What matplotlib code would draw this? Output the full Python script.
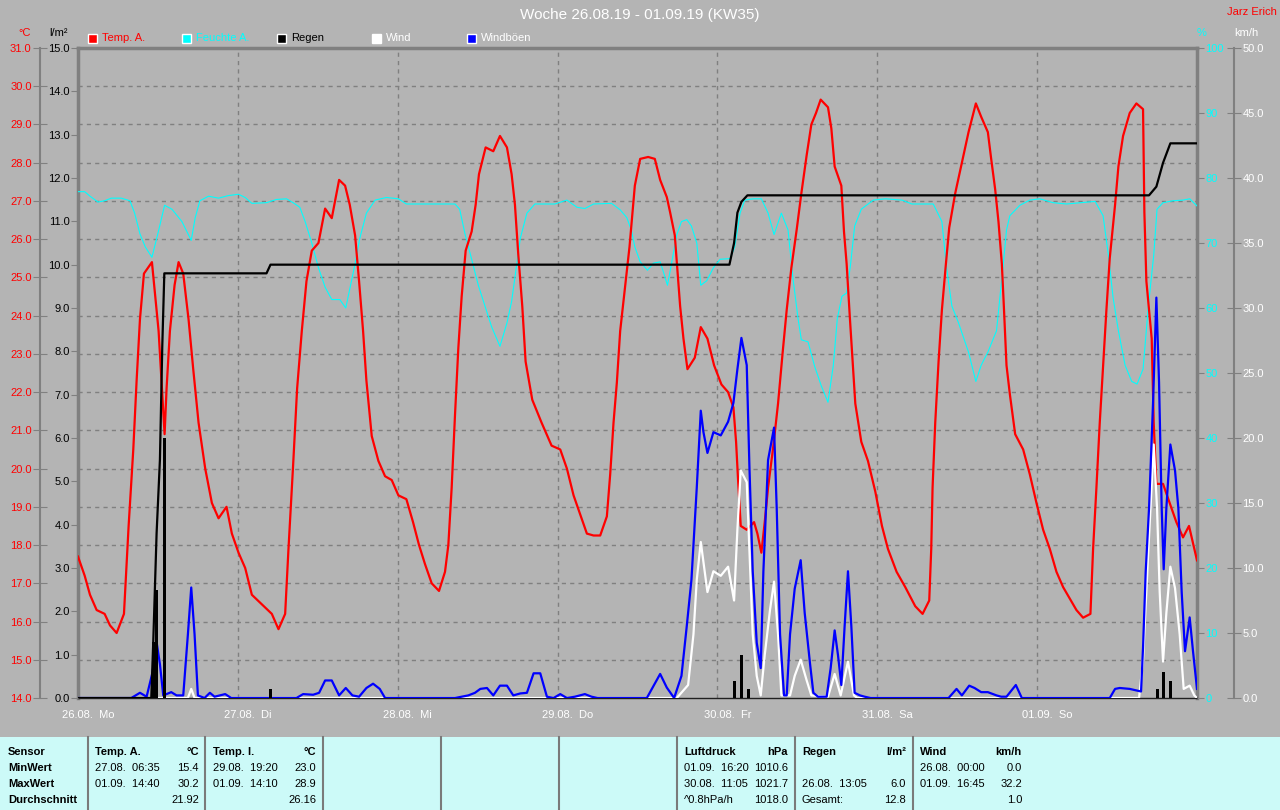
import numpy as np
import matplotlib.pyplot as plt
from matplotlib.patches import Rectangle
from matplotlib.lines import Line2D

plt.rcParams['font.family'] = ['Liberation Sans', 'DejaVu Sans']

# hours since 26.08. 00:00
temp_h = [0.0, 1.0, 1.8, 2.8, 4.0, 4.8, 5.8, 6.9, 7.6, 8.3, 8.8, 9.3, 9.9, 11.1, 11.6, 12.1, 12.6, 13.0,
          13.3, 13.8, 14.5, 15.1, 15.8, 16.6, 17.3, 18.1, 19.1, 20.1, 21.1, 22.3, 23.1, 24.1, 25.1, 26.1,
          27.3, 29.1, 30.1, 31.1, 31.6, 32.3, 32.9, 33.6, 34.3, 35.1, 36.1, 37.1, 38.1, 39.2, 40.1, 40.8,
          41.6, 42.2, 42.8, 43.3, 44.1, 45.1, 46.1, 47.1, 48.1, 49.3, 50.3, 51.2, 52.1, 53.1, 54.2, 55.1,
          55.6, 56.1, 56.6, 57.1, 57.6, 58.2, 59.1, 59.7, 60.2, 61.2, 62.35, 63.35, 64.4, 65.1, 65.6, 66.1,
          66.7, 67.2, 68.2, 69.6, 71.1, 72.4, 73.4, 74.4, 75.4, 76.4, 77.4, 78.4, 79.4, 79.9, 80.4, 80.9,
          81.4, 82.1, 82.8, 83.6, 84.4, 85.6, 86.6, 87.4, 88.4, 88.9, 89.6, 90.4, 90.9, 91.5, 92.6, 93.5,
          94.5, 95.5, 96.6, 97.6, 98.4, 98.8, 99.1, 99.5, 100.4, 101.5, 102.0, 102.6, 103.1, 103.6, 104.4,
          105.1, 105.8, 106.4, 107.1, 107.9, 108.6, 109.4, 110.1, 110.8, 111.5, 112.6, 113.1, 113.6, 114.6,
          115.0, 115.4, 115.9, 116.3, 116.7, 117.6, 118.6, 119.7, 120.7, 121.6, 122.9, 124.2, 125.7, 126.8,
          127.8, 128.1, 128.3, 128.7, 129.2, 129.7, 130.3, 130.8, 131.7, 132.7, 133.7, 134.8, 135.6, 136.6,
          137.1, 137.7, 138.2, 138.7, 139.0, 139.4, 139.9, 140.7, 141.9, 142.9, 143.9, 144.9, 145.9, 146.9,
          147.9, 148.9, 149.9, 150.9, 152.0, 152.4, 152.9, 153.4, 153.9, 154.4, 154.9, 155.7, 156.2, 156.9,
          157.9, 158.9, 159.9, 160.1, 160.4, 161.2, 161.5, 161.9, 162.9, 163.9, 164.9, 165.9, 166.8, 168.0]
temp_v = [17.7, 17.2, 16.7, 16.3, 16.2, 15.9, 15.7, 16.2, 18.5, 20.5, 22.3, 23.9, 25.1, 25.4, 24.5, 23.6, 22.1, 20.9,
          22.1, 23.6, 24.8, 25.4, 25.1, 23.9, 22.6, 21.2, 20.0, 19.1, 18.7, 19.0, 18.3, 17.8, 17.4, 16.7,
          16.5, 16.2, 15.8, 16.2, 17.9, 20.1, 22.1, 23.6, 24.9, 25.7, 25.9, 26.8, 26.55, 27.55, 27.4, 26.9,
          26.1, 24.9, 23.6, 22.3, 20.85, 20.2, 19.8, 19.7, 19.3, 19.2, 18.6, 18.0, 17.5, 17.0, 16.8, 17.3,
          18.0, 19.5, 21.4, 23.15, 24.5, 25.7, 26.2, 26.9, 27.7, 28.4, 28.3, 28.7, 28.4, 27.7, 26.9, 25.6,
          24.25, 22.8, 21.8, 21.2, 20.6, 20.5, 20.0, 19.3, 18.8, 18.3, 18.25, 18.25, 18.75, 19.85, 21.2, 22.25,
          23.6, 24.7, 25.8, 27.4, 28.1, 28.15, 28.1, 27.55, 27.1, 26.7, 26.1, 24.25, 23.4, 22.6, 22.9, 23.7,
          23.4, 22.7, 22.2, 22.0, 21.6, 20.7, 19.7, 18.5, 18.4, 18.6, 18.3, 17.8, 18.6, 19.5, 20.6,
          21.7, 23.05, 24.15, 25.25, 26.25, 27.2, 28.2, 29.0, 29.3, 29.65, 29.45, 28.9, 27.9, 27.4,
          26.2, 25.35, 23.9, 22.8, 21.7, 20.7, 20.2, 19.4, 18.5, 17.9, 17.3, 16.9, 16.4, 16.2,
          16.55, 17.9, 19.5, 21.2, 22.8, 24.15, 25.35, 26.3, 27.2, 28.0, 28.8, 29.55, 29.2, 28.8,
          28.1, 27.3, 26.45, 25.35, 24.25, 22.7, 21.95, 20.9, 20.5, 19.85, 19.1, 18.4, 17.9, 17.3,
          16.9, 16.6, 16.3, 16.1, 16.2, 17.9, 19.5, 21.2, 22.7, 24.15, 25.5, 26.9, 27.9, 28.7,
          29.3, 29.55, 29.4, 26.7, 24.9, 23.4, 21.2, 19.6, 19.6, 19.1, 18.6, 18.2, 18.5, 17.6]

hum_h = [0.0, 1.0, 1.8, 3.0, 4.0, 5.0, 6.5, 7.8, 8.5, 9.3, 10.1, 11.1, 12.1, 13.0, 14.1, 15.6, 17.0, 17.6,
         18.3, 19.6, 21.1, 22.6, 24.1, 25.1, 26.1, 28.3, 29.8, 31.3, 32.3, 33.3, 34.1, 35.1, 36.1, 37.1,
         38.1, 39.3, 40.2, 40.8, 41.6, 42.3, 43.3, 44.6, 46.3, 48.1, 49.3, 56.6, 57.3, 58.1, 59.1, 60.1,
         61.1, 62.1, 63.35, 64.4, 65.1, 65.7, 66.4, 67.4, 68.6, 71.6, 73.4, 74.9, 76.1, 77.4, 80.1, 81.4,
         82.4, 83.1, 83.6, 84.4, 85.5, 86.4, 87.4, 87.9, 88.5, 89.1, 89.9, 90.6, 91.4, 92.1, 92.9, 93.5,
         94.4, 95.4, 96.4, 97.9, 98.6, 99.4, 100.1, 101.4, 102.6, 103.6, 104.5, 105.6, 106.6, 107.3, 108.1,
         108.6, 109.6, 110.6, 111.6, 112.6, 113.4, 114.0, 114.7, 115.4, 116.0, 116.6, 117.6, 119.4, 121.2,
         123.7, 125.2, 128.4, 129.7, 130.4, 131.2, 132.2, 133.7, 134.8, 135.6, 136.6, 137.9, 138.4, 138.9,
         139.4, 139.9, 141.4, 142.9, 144.4, 146.4, 148.4, 152.7, 153.9, 154.7, 155.4, 156.2, 157.2, 158.2,
         159.0, 159.9, 160.7, 161.5, 162.0, 162.9, 164.4, 165.9, 166.9, 168.0]
hum_v = [77.9, 77.9, 77.2, 76.3, 76.5, 76.9, 76.9, 76.5, 74.6, 71.4, 69.4, 67.8, 71.9, 75.8, 75.2, 73.3, 70.4, 73.9,
         76.5, 77.2, 76.9, 77.3, 77.5, 77.0, 76.1, 76.2, 76.7, 76.8, 76.2, 75.5, 73.3, 70.0, 66.2, 63.2,
         61.3, 61.3, 60.0, 62.9, 66.8, 70.7, 74.6, 76.6, 77.0, 76.8, 76.0, 76.0, 75.2, 71.4, 67.5, 63.5,
         60.3, 57.1, 54.1, 57.7, 61.0, 65.5, 70.7, 74.6, 76.0, 76.0, 76.6, 75.5, 75.3, 76.0, 76.1, 75.1,
         73.9, 71.9, 69.4, 67.1, 65.8, 66.9, 67.1, 65.5, 63.5, 66.8, 71.3, 73.3, 73.6, 72.6, 70.0, 63.5,
         64.2, 66.2, 67.5, 67.6, 69.4, 74.6, 76.6, 76.8, 76.8, 74.6, 71.3, 74.6, 72.0, 64.9, 58.4,
         55.1, 54.8, 51.0, 48.0, 45.5, 51.2, 58.4, 61.8, 62.3, 66.8, 72.6, 75.2, 76.6, 76.8,
         76.6, 76.0, 76.0, 73.3, 66.2, 60.3, 57.7, 53.2, 48.7, 51.2, 53.2, 56.5, 61.6, 66.6,
         72.0, 74.2, 75.8, 76.6, 76.8, 76.2, 76.0, 76.4, 74.2, 68.1, 61.6, 56.5, 51.2, 48.7,
         48.3, 50.6, 60.3, 68.1, 75.2, 76.2, 76.5, 76.6, 76.8, 75.7]

rain_sum_h = [0.0, 11.0, 11.3, 11.8, 12.3, 12.65, 12.96, 28.3, 28.9, 97.8, 98.5, 99.0, 99.6, 100.5,
              160.8, 161.9, 162.9, 164.0, 168.0]
rain_sum_v = [0.0, 0.0, 1.3, 3.8, 5.5, 8.1, 9.8, 9.8, 10.0, 10.0, 10.5, 11.2, 11.45, 11.6,
              11.6, 11.8, 12.35, 12.8, 12.8]

rain_h = [11.3, 11.8, 12.96, 28.9, 98.5, 99.6, 100.6, 162.0, 162.9, 164.0]
rain_v = [1.3, 2.5, 6.0, 0.2, 0.4, 1.0, 0.2, 0.2, 0.6, 0.4]

gust_h = [0.0, 8.0, 9.3, 10.3, 11.2, 11.8, 12.3, 12.8, 14.0, 14.8, 15.8, 16.5, 17.0, 17.5, 18.0, 19.0,
          19.8, 20.5, 22.1, 23.0, 32.8, 33.8, 35.3, 36.2, 37.1, 38.1, 39.2, 40.2, 41.2, 42.2, 43.3, 44.3,
          45.3, 46.1, 56.6, 57.6, 58.6, 59.6, 60.4, 61.4, 62.35, 63.35, 64.4, 65.35, 66.4, 67.4, 68.4, 69.4,
          70.4, 71.4, 72.4, 73.4, 74.6, 76.1, 77.1, 78.0, 85.4, 87.4, 88.4, 89.5, 90.6, 91.4, 92.1, 92.9,
          93.5, 93.9, 94.5, 95.4, 96.5, 97.6, 98.4, 99.0, 99.6, 100.4, 100.8, 101.3, 101.9, 102.5, 102.9,
          103.6, 104.5, 104.9, 105.4, 106.0, 106.4, 106.9, 107.6, 108.5, 109.1, 109.9, 110.4, 111.1, 112.4,
          113.0, 113.6, 114.1, 114.6, 115.1, 115.6, 116.1, 116.6, 117.4, 118.1, 119.0, 130.7, 131.9, 132.7,
          133.8, 134.6, 135.6, 136.6, 137.9, 138.6, 139.4, 140.8, 141.7, 154.9, 155.7, 156.4, 157.9, 159.6,
          159.9, 160.3, 160.8, 161.4, 161.9, 162.3, 162.7, 163.0, 163.4, 164.0, 164.7, 165.2, 165.7, 166.2,
          166.9, 167.4, 168.0]
gust_v = [0.0, 0.0, 0.4, 0.1, 2.0, 4.3, 2.6, 0.2, 0.45, 0.2, 0.2, 4.9, 8.5, 4.9, 0.2, 0.0,
          0.4, 0.1, 0.3, 0.0, 0.0, 0.3, 0.25, 0.4, 1.35, 1.35, 0.2, 0.77, 0.2, 0.1, 0.77, 1.1,
          0.7, 0.0, 0.0, 0.1, 0.2, 0.4, 0.7, 0.77, 0.2, 0.95, 0.95, 0.2, 0.35, 0.4, 1.9, 1.9,
          0.1, 0.0, 0.3, 0.0, 0.1, 0.3, 0.1, 0.0, 0.0, 1.85, 0.8, 0.0, 1.7, 5.55, 9.1, 16.2,
          22.1, 20.45, 18.85, 20.45, 20.2, 21.25, 22.7, 25.3, 27.7, 25.6, 17.85, 9.75, 4.25, 2.3, 9.75,
          18.3, 20.8, 14.6, 4.9, 0.2, 0.2, 4.9, 8.4, 10.6, 6.55, 2.65, 0.4, 0.1, 0.1,
          2.3, 5.2, 3.3, 1.0, 5.55, 9.75, 5.55, 0.4, 0.2, 0.1, 0.0, 0.0, 0.7, 0.2,
          0.95, 0.77, 0.45, 0.45, 0.2, 0.1, 0.1, 1.0, 0.0, 0.0, 0.7, 0.77, 0.7, 0.5,
          3.9, 9.75, 14.6, 22.7, 30.8, 24.3, 14.6, 9.9, 14.6, 19.5, 17.5, 14.6, 8.15, 3.6,
          6.2, 3.6, 0.7]

wind_h = [0.0, 16.5, 17.0, 17.5, 89.9, 91.6, 92.4, 92.9, 93.5, 94.5, 95.4, 96.5, 97.6, 98.5, 99.0, 99.5,
          100.4, 100.8, 101.3, 101.9, 102.5, 103.1, 103.9, 104.5, 105.1, 105.6, 106.9, 107.6, 108.5, 109.4,
          110.1, 112.6, 113.6, 114.5, 115.6, 116.5, 117.0, 159.3, 159.9, 160.7, 161.5, 162.0, 162.4, 162.9,
          163.4, 164.0, 164.7, 165.4, 166.0, 166.9, 167.6, 168.0]
wind_v = [0.0, 0.0, 0.7, 0.0, 0.0, 1.0, 4.9, 9.1, 12.0, 8.15, 9.75, 9.4, 10.1, 7.5, 13.0, 17.5,
          16.6, 11.4, 4.9, 1.7, 0.2, 3.3, 6.8, 8.95, 4.9, 0.2, 0.2, 1.7, 2.95, 1.35,
          0.2, 0.1, 1.85, 0.2, 2.8, 0.2, 0.0, 0.0, 2.95, 11.4, 19.5, 14.6, 8.15, 2.8,
          6.55, 10.1, 8.45, 4.9, 0.7, 0.95, 0.2, 0.0]

day_labels = ['26.08.  Mo', '27.08.  Di', '28.08.  Mi', '29.08.  Do', '30.08.  Fr', '31.08.  Sa', '01.09.  So']

legend_names = ['Temp. A.', 'Feuchte A.', 'Regen', 'Wind', 'Windböen']
legend_colors = ['#ff0000', '#00ffff', '#000000', '#ffffff', '#0000ff']
legend_text_colors = ['#ff0000', '#00ffff', '#000000', '#ffffff', '#ffffff']

row_names = ['Sensor', 'MinWert', 'MaxWert', 'Durchschnitt']
table_cols = [
    ('Temp. A.', '°C', ['27.08.  06:35', '01.09.  14:40', ''], ['15.4', '30.2', '21.92']),
    ('Temp. I.', '°C', ['29.08.  19:20', '01.09.  14:10', ''], ['23.0', '28.9', '26.16']),
    ('Luftdruck', 'hPa', ['01.09.  16:20', '30.08.  11:05', '^0.8hPa/h'], ['1010.6', '1021.7', '1018.0']),
    ('Regen', 'l/m²', ['', '26.08.  13:05', 'Gesamt:'], ['', '6.0', '12.8']),
    ('Wind', 'km/h', ['26.08.  00:00', '01.09.  16:45', ''], ['0.0', '32.2', '1.0']),
]

W, H = 1280, 810
BG = '#b4b4b4'
GRID = '#808080'


def fx(x):
    return x / W


def fy(y):
    return 1 - y / H


fig = plt.figure(figsize=(12.8, 8.1), dpi=100)
fig.patch.set_facecolor(BG)

rect = [fx(78), fy(698), (1197 - 78) / W, (698 - 48) / H]

# background axes: grid, border, day labels
ax_bg = fig.add_axes(rect, zorder=0)
ax_bg.set_facecolor(BG)
ax_bg.set_xlim(0, 168)
ax_bg.set_ylim(14, 31)
ax_bg.set_yticks(np.arange(15, 31))
ax_bg.tick_params(axis='y', left=False, labelleft=False)
ax_bg.set_xticks(np.arange(0, 168, 24) + 1.5)
ax_bg.set_xticklabels(day_labels, color='white', fontsize=8)
ax_bg.set_xticks(np.arange(24, 168, 24), minor=True)
ax_bg.tick_params(axis='x', which='both', length=0, pad=9)
ax_bg.yaxis.grid(True, color=GRID, linestyle=(0, (3, 3)), linewidth=1)
ax_bg.xaxis.grid(True, which='minor', color=GRID, linestyle=(0, (3, 3)), linewidth=1)
ax_bg.xaxis.grid(False, which='major')
for s in ['left', 'top', 'right']:
    ax_bg.spines[s].set_color(GRID)
    ax_bg.spines[s].set_linewidth(2.5)
ax_bg.spines['bottom'].set_color('#202020')
ax_bg.spines['bottom'].set_linewidth(1)


def overlay(z, lo, hi):
    a = fig.add_axes(rect, zorder=z)
    a.set_facecolor('none')
    a.set_xlim(0, 168)
    a.set_ylim(lo, hi)
    a.xaxis.set_visible(False)
    for s in a.spines.values():
        s.set_visible(False)
    return a


ax_hum = overlay(1, 0, 100)
ax_temp = overlay(2, 14, 31)
ax_wind = overlay(3, 0, 50)
ax_rain = overlay(4, 0, 15)

ax_hum.plot(hum_h, hum_v, color='#00ffff', lw=0.8)
ax_hum.yaxis.tick_right()
ax_hum.set_yticks(np.arange(0, 101, 10))
ax_hum.tick_params(axis='y', direction='out', length=5, color=GRID, labelcolor='#00ffff', labelsize=8, pad=1)

ax_temp.plot(temp_h, temp_v, color='#ff0000', lw=1.6)
ax_temp.spines['left'].set_visible(True)
ax_temp.spines['left'].set_position(('outward', 27.4))
ax_temp.spines['left'].set_color(GRID)
ax_temp.spines['left'].set_linewidth(1.5)
ax_temp.set_yticks(np.arange(14, 31.5, 1))
ax_temp.yaxis.set_major_formatter('{x:.1f}')
ax_temp.tick_params(axis='y', direction='inout', length=10, color=GRID, labelcolor='#ff0000', labelsize=8, pad=1)

ax_wind.plot(wind_h, wind_v, color='white', lw=1.6)
ax_wind.plot(gust_h, gust_v, color='#0000ff', lw=1.6)
ax_wind.yaxis.tick_right()
ax_wind.spines['right'].set_visible(True)
ax_wind.spines['right'].set_position(('outward', 26.6))
ax_wind.spines['right'].set_color(GRID)
ax_wind.spines['right'].set_linewidth(1.5)
ax_wind.set_yticks(np.arange(0, 51, 5))
ax_wind.yaxis.set_major_formatter('{x:.1f}')
ax_wind.tick_params(axis='y', direction='inout', length=10, color=GRID, labelcolor='white', labelsize=8, pad=1)

ax_rain.bar(rain_h, rain_v, width=0.45, color='black')
ax_rain.plot(rain_sum_h, rain_sum_v, color='black', lw=1.6)
ax_rain.set_yticks(np.arange(0, 15.5, 1))
ax_rain.yaxis.set_major_formatter('{x:.1f}')
ax_rain.tick_params(axis='y', direction='out', length=5, color=GRID, labelcolor='black', labelsize=8, pad=1)

# header
fig.text(0.5, fy(15), 'Woche 26.08.19 - 01.09.19 (KW35)', color='white', fontsize=11, ha='center', va='center')
fig.text(fx(1277), fy(12), 'Jarz Erich', color='#ff0000', fontsize=8, ha='right', va='center')
fig.text(fx(25), fy(33), '°C', color='#ff0000', fontsize=8, ha='center', va='center')
fig.text(fx(58), fy(33), 'l/m²', color='black', fontsize=8, ha='center', va='center')
fig.text(fx(1202), fy(33), '%', color='#00ffff', fontsize=8, ha='center', va='center')
fig.text(fx(1246), fy(33), 'km/h', color='white', fontsize=8, ha='center', va='center')

leg_x = [88, 182, 277, 372, 467]
for x, name, c, tc in zip(leg_x, legend_names, legend_colors, legend_text_colors):
    fig.add_artist(Rectangle((fx(x), fy(43)), 9 / W, 9 / H, facecolor=c, edgecolor='white', lw=1,
                             transform=fig.transFigure))
    fig.text(fx(x + 14), fy(38), name, color=tc, fontsize=8, ha='left', va='center')

# statistics table
fig.add_artist(Rectangle((0, 0), 1, 73 / H, facecolor='#ccfaf8', edgecolor='none', transform=fig.transFigure))
for x in [88, 205, 323, 441, 559, 677, 795, 913]:
    fig.add_artist(Line2D([fx(x), fx(x)], [0, fy(737)], color='#7a7a7a', lw=1.5, transform=fig.transFigure))

row_y = [752, 768, 784, 800]
for name, y in zip(row_names, row_y):
    fig.text(fx(8), fy(y), name, fontsize=8, fontweight='bold', ha='left', va='center')

col_pos = [(95, 199), (213, 316), (684, 788), (802, 906), (920, 1022)]
for (x0, x1), (head, unit, left, right) in zip(col_pos, table_cols):
    fig.text(fx(x0), fy(row_y[0]), head, fontsize=8, fontweight='bold', ha='left', va='center')
    fig.text(fx(x1), fy(row_y[0]), unit, fontsize=8, fontweight='bold', ha='right', va='center')
    for y, l, r in zip(row_y[1:], left, right):
        fig.text(fx(x0), fy(y), l, fontsize=8, ha='left', va='center')
        fig.text(fx(x1), fy(y), r, fontsize=8, ha='right', va='center')

fig.savefig('out.png', dpi=100, facecolor=BG)
